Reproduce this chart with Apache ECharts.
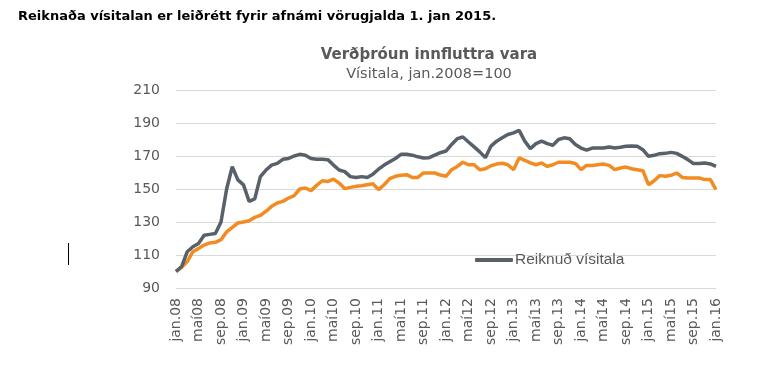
<!DOCTYPE html>
<html>
<head>
<meta charset="utf-8">
<script src="https://cdn.jsdelivr.net/npm/echarts@6/dist/echarts.min.js"></script>
<style>
html,body{margin:0;padding:0;background:#fff;}
#c{width:760px;height:370px;}
</style>
</head>
<body>
<div id="c"></div>
<script>
const monthNames = ['jan.','feb.','mar.','apr.','maí','jún.','júl.','ágú.','sep.','okt.','nóv.','des.'];
const startYear = 8;
const nPoints = 97;
const categories = [];
for (let i = 0; i < nPoints; i++) {
  const y = startYear + Math.floor(i / 12);
  categories.push(monthNames[i % 12] + (y < 10 ? '0' + y : '' + y));
}
const seriesNames = ['Reiknuð vísitala', 'Innflutningsverð'];
const reiknud = [
  100,103,112,115,117,122,122.5,123,130,150,163.5,155.5,
  152.5,142.5,144,157.5,161.5,164.5,165.5,168,168.5,170,171,170.5,
  168.5,168,168,167.8,164.5,161.5,160.5,157.5,157,157.5,157,159,
  162,164.5,166.5,168.5,171,171,170.5,169.5,168.8,169,170.5,172,
  173,177,180.5,181.5,178.5,175.5,172.5,169,176,179,181,183,
  184,185.5,179,174.5,177.5,179,177.5,176.5,180,181,180.5,177,
  174.8,173.5,174.8,174.8,174.8,175.5,174.8,175.3,175.9,176,175.9,173.8,
  169.8,170.4,171.4,171.6,172.2,171.6,169.8,167.8,165.4,165.4,165.8,165.2,
  163.7
];
const innflutt = [
  100,102.5,106,112,114,116,117.3,117.7,119.3,124,126.8,129.4,
  130,130.8,132.8,134,136.5,139.5,141.5,142.5,144.5,146,150,150.6,
  149,152.2,155,154.6,156,153.6,150.2,151,151.6,152,152.6,153.2,
  149.6,152.6,156.3,157.7,158.3,158.7,157,157,159.7,159.7,159.7,158.5,
  157.7,161.7,163.7,166.2,164.7,164.7,161.7,162.3,164.1,165.1,165.6,164.7,
  161.7,168.8,167.4,165.8,164.7,165.8,163.7,164.7,166.2,166.2,166.2,165.5,
  161.7,164.3,164.3,164.7,165.1,164.3,161.7,162.7,163.3,162.3,161.7,161.1,
  152.6,155,158.1,157.7,158.3,159.7,157,156.7,156.7,156.7,155.7,155.7,
  149.6
];
const yMin = 90, yMax = 210, yStep = 20;

const chart = echarts.init(document.getElementById('c'), null, {renderer: 'canvas'});
const txt = '#595959';
const wide = '"DejaVu Sans", Verdana, sans-serif';
const arial = '"Liberation Sans", Arial, sans-serif';
chart.setOption({
  animation: false,
  backgroundColor: '#ffffff',
  textStyle: {fontFamily: wide},
  title: [
    {text: 'Reiknaða vísitalan er leiðrétt fyrir afnámi vörugjalda 1. jan 2015.',
     left: 13, top: 5, textStyle: {fontSize: 13, fontWeight: 'bold', color: '#000', fontFamily: wide}},
    {text: 'Verðþróun innfluttra vara', subtext: 'Vísitala, jan.2008=100',
     left: 424, top: 43, textAlign: 'center', itemGap: 4,
     textStyle: {fontSize: 15, fontWeight: 'bold', color: txt, fontFamily: wide},
     subtextStyle: {fontSize: 14.5, color: txt, fontFamily: wide}}
  ],
  legend: {
    data: [{name: seriesNames[0], icon: 'roundRect'}],
    left: 470, top: 247,
    itemWidth: 38, itemHeight: 4, itemGap: 10,
    textStyle: {fontSize: 15.5, color: txt, fontFamily: arial, padding: [0,0,0,-3]}
  },
  grid: {left: 176, right: 44, top: 90, bottom: 82, containLabel: false},
  xAxis: {
    type: 'category', data: categories, boundaryGap: false,
    axisLine: {show: true, lineStyle: {color: '#d9d9d9', width: 1}},
    axisTick: {show: false},
    axisLabel: {interval: 3, rotate: 90, color: txt, fontSize: 14, margin: 10, fontFamily: wide}
  },
  yAxis: {
    type: 'value', min: yMin, max: yMax, interval: yStep,
    axisLine: {show: false}, axisTick: {show: false},
    splitLine: {lineStyle: {color: '#d9d9d9', width: 1}},
    axisLabel: {color: txt, fontSize: 14, margin: 16, fontFamily: wide}
  },
  series: [
    {name: seriesNames[0], type: 'line', data: reiknud, symbol: 'none', z: 3,
     lineStyle: {color: '#586069', width: 3.5}, itemStyle: {color: '#586069'}},
    {name: seriesNames[1], type: 'line', data: innflutt, symbol: 'none', z: 2,
     lineStyle: {color: '#f28c22', width: 3.5}, itemStyle: {color: '#f28c22'}}
  ],
  graphic: [
    {type: 'line', shape: {x1: 68.5, y1: 243, x2: 68.5, y2: 265}, style: {stroke: '#000', lineWidth: 1}}
  ]
});
</script>
</body>
</html>
